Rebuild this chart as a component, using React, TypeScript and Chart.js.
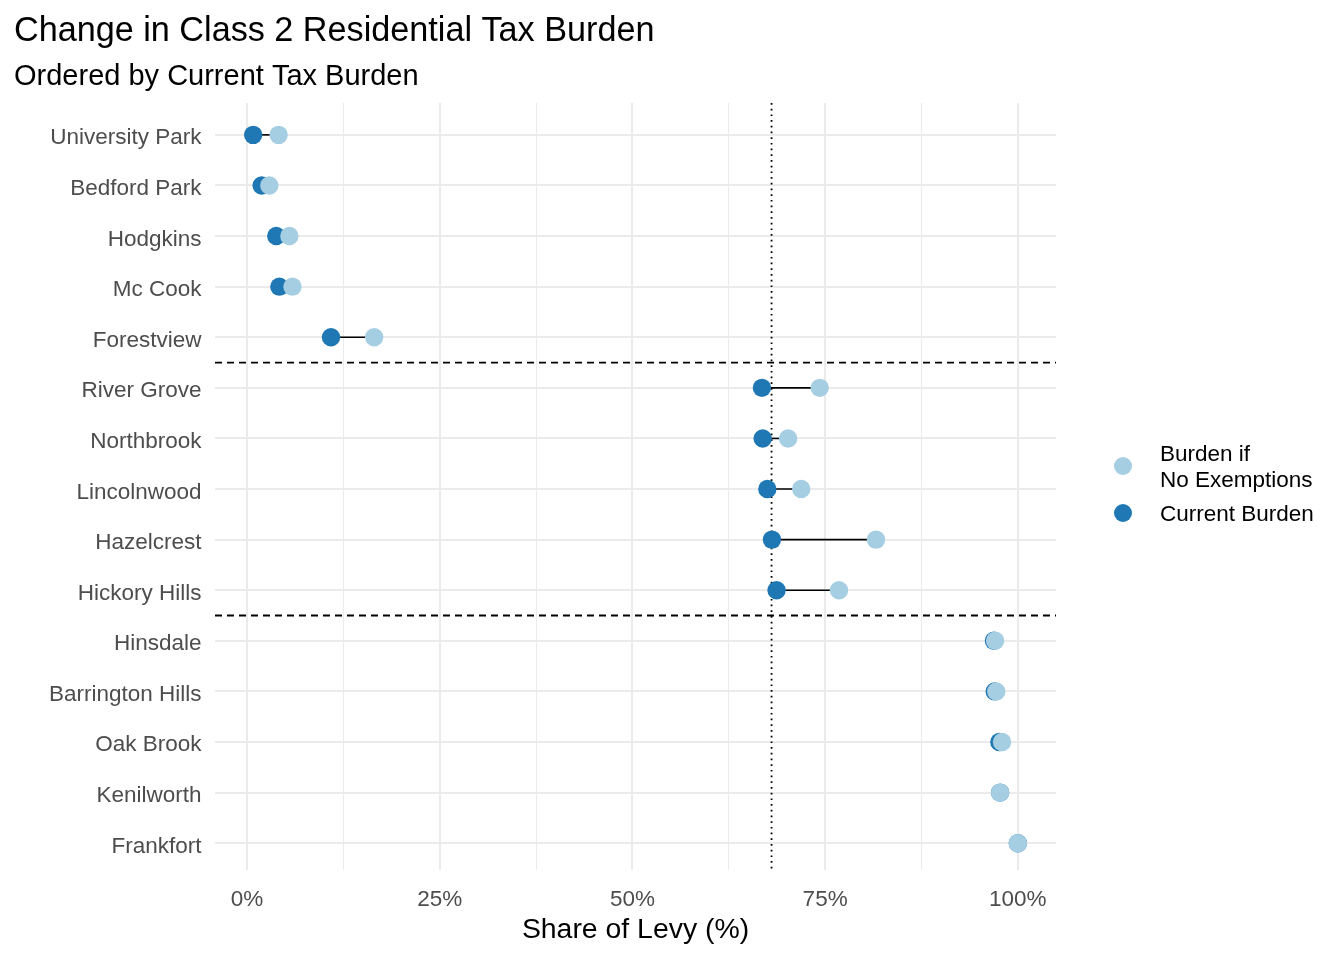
import React, { useEffect, useRef } from "react";
import { Chart, registerables } from "chart.js";

Chart.register(...registerables);

const categories = [
  "University Park",
  "Bedford Park",
  "Hodgkins",
  "Mc Cook",
  "Forestview",
  "River Grove",
  "Northbrook",
  "Lincolnwood",
  "Hazelcrest",
  "Hickory Hills",
  "Hinsdale",
  "Barrington Hills",
  "Oak Brook",
  "Kenilworth",
  "Frankfort",
];

const currentBurden = [0.8, 1.9, 3.8, 4.2, 10.9, 66.8, 66.9, 67.5, 68.1, 68.7, 96.9, 97.0, 97.6, 97.7, 100];
const noExemptionBurden = [4.1, 2.9, 5.5, 5.9, 16.5, 74.3, 70.2, 71.9, 81.6, 76.8, 97.05, 97.2, 97.95, 97.7, 100];

const xTickValues = [0, 12.5, 25, 37.5, 50, 62.5, 75, 87.5, 100];
const groupBreaks = [4.5, 9.5];
const referenceLine = 68.05;

const titleText = "Change in Class 2 Residential Tax Burden";
const subtitleText = "Ordered by Current Tax Burden";
const xTitle = "Share of Levy (%)";
const legendLabels = [["Burden if", "No Exemptions"], ["Current Burden"]];

const LIGHT = "#A6CEE3";
const DARK = "#1F78B4";
const FONT = "'Liberation Sans', Arial, sans-serif";

export default function App() {
  const ref = useRef<HTMLCanvasElement | null>(null);

  useEffect(() => {
    const canvas = ref.current;
    if (!canvas) return;

    const overlay = {
      id: "overlay",
      beforeDatasetsDraw(chart: any) {
        const { ctx, chartArea } = chart;
        const xs = chart.scales.x;
        const ys = chart.scales.y;
        ctx.save();
        ctx.strokeStyle = "#000";
        ctx.lineWidth = 1.8;
        ctx.setLineDash([7, 5]);
        groupBreaks.forEach((b) => {
          const y = ys.getPixelForValue(b);
          ctx.beginPath();
          ctx.moveTo(chartArea.left, y);
          ctx.lineTo(chartArea.right, y);
          ctx.stroke();
        });
        ctx.setLineDash([1.7, 4]);
        ctx.lineWidth = 1.8;
        const rx = xs.getPixelForValue(referenceLine);
        ctx.beginPath();
        ctx.moveTo(rx, chartArea.top);
        ctx.lineTo(rx, chartArea.bottom);
        ctx.stroke();
        ctx.setLineDash([]);
        ctx.lineWidth = 1.6;
        categories.forEach((_, i) => {
          const y = ys.getPixelForValue(i);
          ctx.beginPath();
          ctx.moveTo(xs.getPixelForValue(currentBurden[i]), y);
          ctx.lineTo(xs.getPixelForValue(noExemptionBurden[i]), y);
          ctx.stroke();
        });
        ctx.restore();
      },
      afterDraw(chart: any) {
        const { ctx, chartArea } = chart;
        const ys = chart.scales.y;
        ctx.save();
        ctx.fillStyle = "#4D4D4D";
        ctx.font = `22.5px ${FONT}`;
        ctx.textAlign = "right";
        ctx.textBaseline = "alphabetic";
        categories.forEach((c, i) => {
          ctx.fillText(c, chartArea.left - 13.5, ys.getPixelForValue(i) + 9.5);
        });
        ctx.fillStyle = "#000";
        ctx.textAlign = "left";
        ctx.font = `34.2px ${FONT}`;
        ctx.fillText(titleText, 14, 41);
        ctx.font = `29px ${FONT}`;
        ctx.fillText(subtitleText, 14, 85);
        ctx.fillStyle = LIGHT;
        ctx.beginPath();
        ctx.arc(1123, 466, 9, 0, Math.PI * 2);
        ctx.fill();
        ctx.fillStyle = DARK;
        ctx.beginPath();
        ctx.arc(1123, 513, 9, 0, Math.PI * 2);
        ctx.fill();
        ctx.fillStyle = "#000";
        ctx.font = `22.5px ${FONT}`;
        ctx.textBaseline = "middle";
        ctx.fillText(legendLabels[0][0], 1160, 455);
        ctx.fillText(legendLabels[0][1], 1160, 481);
        ctx.fillText(legendLabels[1][0], 1160, 515);
        ctx.restore();
      },
    };

    const chart = new Chart(canvas, {
      type: "scatter",
      data: {
        datasets: [
          {
            label: "Burden if No Exemptions",
            data: noExemptionBurden.map((v, i) => ({ x: v, y: i })),
            backgroundColor: LIGHT,
            borderColor: LIGHT,
            pointRadius: 9.2,
            pointBorderWidth: 0,
          },
          {
            label: "Current Burden",
            data: currentBurden.map((v, i) => ({ x: v, y: i })),
            backgroundColor: DARK,
            borderColor: DARK,
            pointRadius: 9.2,
            pointBorderWidth: 0,
          },
        ],
      },
      options: {
        animation: false,
        responsive: false,
        devicePixelRatio: 1,
        layout: { padding: { left: 0, top: 103, right: 1344 - 1056, bottom: 0 } },
        plugins: {
          legend: { display: false },
          tooltip: { enabled: false },
          title: { display: false },
        },
        scales: {
          x: {
            type: "linear",
            min: -4.15,
            max: 104.95,
            afterBuildTicks: (scale: any) => {
              scale.ticks = xTickValues.map((v) => ({ value: v }));
            },
            afterFit: (scale: any) => {
              scale.height = 90;
            },
            border: { display: false },
            grid: {
              color: "#EBEBEB",
              lineWidth: (c: any) => (c.tick && c.tick.value % 25 === 0 ? 2 : 1),
              drawTicks: false,
            },
            ticks: {
              color: "#4D4D4D",
              font: { family: FONT, size: 22.5 },
              padding: 16,
              maxRotation: 0,
              autoSkip: false,
              callback: (v: any) => (Number(v) % 25 === 0 ? `${v}%` : ""),
            },
            title: {
              display: true,
              text: xTitle,
              color: "#000",
              font: { family: FONT, size: 28.4 },
              padding: { top: 4, bottom: 13 },
            },
          },
          y: {
            type: "linear",
            reverse: true,
            min: -0.63,
            max: 14.53,
            afterBuildTicks: (scale: any) => {
              scale.ticks = categories.map((_, i) => ({ value: i }));
            },
            afterFit: (scale: any) => {
              scale.width = 215;
            },
            border: { display: false },
            grid: {
              color: "#EBEBEB",
              lineWidth: 2,
              drawTicks: false,
            },
            ticks: {
              display: false,
            },
          },
        },
      },
      plugins: [overlay],
    });

    return () => chart.destroy();
  }, []);

  return (
    <div style={{ position: "fixed", left: 0, top: 0, width: 1344, height: 960, background: "#fff" }}>
      <canvas ref={ref} width={1344} height={960} style={{ width: 1344, height: 960 }} />
    </div>
  );
}
